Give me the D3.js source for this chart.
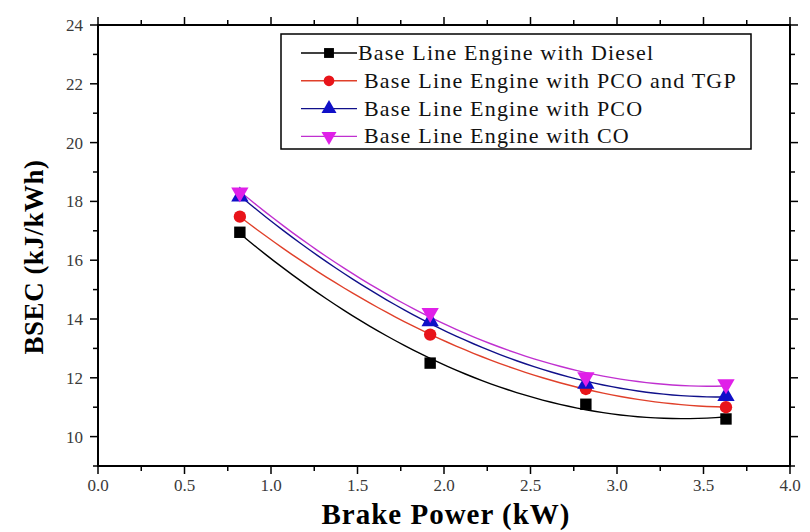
<!DOCTYPE html>
<html>
<head>
<meta charset="utf-8">
<script src="https://cdn.jsdelivr.net/npm/d3@7"></script>
<style>
  body { margin: 0; background: #fff; }
  text { font-family: "Liberation Serif", "Times New Roman", serif; }
</style>
</head>
<body>
<div class="chart_container"></div>
<script>
    // data
    var brake_power = [0.82, 1.92, 2.82, 3.63];
    var series_names = ["Base Line Engine with Diesel", "Base Line Engine with PCO and TGP",
                        "Base Line Engine with PCO", "Base Line Engine with CO"];
    var diesel = [16.95, 12.5, 11.1, 10.6];
    var pco_tgp = [17.48, 13.47, 11.62, 11.0];
    var pco = [18.17, 13.92, 11.8, 11.38];
    var co = [18.3, 14.2, 12.02, 11.78];
    var x_ticks = [0, 0.5, 1, 1.5, 2, 2.5, 3, 3.5, 4];
    var y_ticks = [10, 12, 14, 16, 18, 20, 22, 24];

    var w = 810, h = 532;
    var p_left = 98, p_right = 790, p_top = 25, p_bottom = 466;

    var svg = d3.select('.chart_container')
                .append('svg')
                .attr('width', w)
                .attr('height', h);

    var x_scale = d3.scaleLinear().domain([0, 4]).range([p_left, p_right]);
    var y_scale = d3.scaleLinear().domain([9, 24]).range([p_bottom, p_top]);

    var colors = ["#000000", "#e8141a", "#1010c8", "#e020e8"];
    var line_colors = ["#000000", "#e0402a", "#10108a", "#c030d0"];
    var shapes = [d3.symbolSquare, d3.symbolCircle, d3.symbolTriangle, d3.symbolTriangle];
    var sizes = [130, 120, 130, 130];
    var all_series = [diesel, pco_tgp, pco, co];

    //quadratic least squares fit for the smooth curves
    function fit2(xs, ys) {
        var s = [0, 0, 0, 0, 0], t = [0, 0, 0];
        xs.forEach(function(x, i) {
            for (var k = 0; k < 5; k++) s[k] += Math.pow(x, k);
            for (var k = 0; k < 3; k++) t[k] += ys[i] * Math.pow(x, k);
        });
        var m = [[s[0], s[1], s[2], t[0]], [s[1], s[2], s[3], t[1]], [s[2], s[3], s[4], t[2]]];
        for (var i = 0; i < 3; i++) {
            for (var j = i + 1; j < 3; j++) {
                var f = m[j][i] / m[i][i];
                for (var k = i; k < 4; k++) m[j][k] -= f * m[i][k];
            }
        }
        var c = [0, 0, 0];
        for (var i = 2; i >= 0; i--) {
            var v = m[i][3];
            for (var k = i + 1; k < 3; k++) v -= m[i][k] * c[k];
            c[i] = v / m[i][i];
        }
        return function(x) { return c[0] + c[1] * x + c[2] * x * x; };
    }

    //axes, ticks pointing outwards on all four sides
    var minor_x = d3.range(0, 4.01, 0.25);
    var minor_y = d3.range(9, 24.01, 1);
    function tickLen(major) { return major ? 8 : 5; }
    function isMajorX(v) { return Math.abs(v * 2 - Math.round(v * 2)) < 1e-6; }
    function isMajorY(v) { return v % 2 === 0; }

    var ax = svg.append('g').attr('class', 'axes');
    minor_x.forEach(function(v) {
        var L = tickLen(isMajorX(v));
        ax.append('line').attr('x1', x_scale(v)).attr('x2', x_scale(v))
          .attr('y1', p_bottom).attr('y2', p_bottom + L).attr('stroke', '#000').attr('stroke-width', 1.5);
        ax.append('line').attr('x1', x_scale(v)).attr('x2', x_scale(v))
          .attr('y1', p_top).attr('y2', p_top - L).attr('stroke', '#000').attr('stroke-width', 1.5);
    });
    minor_y.forEach(function(v) {
        var L = tickLen(isMajorY(v));
        ax.append('line').attr('y1', y_scale(v)).attr('y2', y_scale(v))
          .attr('x1', p_left).attr('x2', p_left - L).attr('stroke', '#000').attr('stroke-width', 1.5);
        ax.append('line').attr('y1', y_scale(v)).attr('y2', y_scale(v))
          .attr('x1', p_right).attr('x2', p_right + L).attr('stroke', '#000').attr('stroke-width', 1.5);
    });
    ax.append('rect')
      .attr('x', p_left).attr('y', p_top)
      .attr('width', p_right - p_left).attr('height', p_bottom - p_top)
      .attr('fill', 'none').attr('stroke', '#000').attr('stroke-width', 2);

    //tick labels
    svg.selectAll('.x_label')
       .data(x_ticks).enter().append('text')
       .attr('class', 'x_label')
       .attr('x', d => x_scale(d))
       .attr('y', p_bottom + 25)
       .attr('text-anchor', 'middle')
       .style('font-size', '17px')
       .style('fill', '#3a3a3a')
       .text(d => d.toFixed(1));
    svg.selectAll('.y_label')
       .data(y_ticks).enter().append('text')
       .attr('class', 'y_label')
       .attr('x', p_left - 15)
       .attr('y', d => y_scale(d) + 6)
       .attr('text-anchor', 'end')
       .style('font-size', '17px')
       .style('fill', '#3a3a3a')
       .text(d => d);

    //axis titles
    svg.append('text')
       .attr('x', 446)
       .attr('y', 524)
       .attr('text-anchor', 'middle')
       .style('font-size', '29px')
       .style('font-weight', 'bold')
       .style('letter-spacing', '1px')
       .text('Brake Power (kW)');
    svg.append('text')
       .attr('transform', 'translate(43,257) rotate(-90)')
       .attr('text-anchor', 'middle')
       .style('font-size', '27px')
       .style('font-weight', 'bold')
       .style('letter-spacing', '0.5px')
       .text('BSEC (kJ/kWh)');

    //curves and markers
    var line = d3.line().x(d => x_scale(d[0])).y(d => y_scale(d[1]));
    all_series.forEach(function(vals, i) {
        var f = fit2(brake_power, vals);
        var xs = d3.range(brake_power[0], brake_power[3] + 0.001, 0.05);
        svg.append('path')
           .attr('d', line(xs.map(x => [x, f(x)])))
           .attr('fill', 'none')
           .attr('stroke', line_colors[i])
           .attr('stroke-width', 1.4);
    });
    all_series.forEach(function(vals, i) {
        var sym = d3.symbol().type(shapes[i]).size(sizes[i]);
        svg.selectAll('.pt' + i)
           .data(vals).enter().append('path')
           .attr('class', 'pt' + i)
           .attr('transform', function(d, j) {
               var rot = i === 3 ? ' rotate(180)' : '';
               return 'translate(' + x_scale(brake_power[j]) + ',' + y_scale(d) + ')' + rot;
           })
           .attr('d', sym())
           .attr('fill', colors[i]);
    });

    //legend
    var lg = svg.append('g').attr('class', 'legend');
    lg.append('rect')
      .attr('x', 281).attr('y', 34)
      .attr('width', 470).attr('height', 115)
      .attr('fill', '#fff').attr('stroke', '#000').attr('stroke-width', 1.5);
    series_names.forEach(function(name, i) {
        var yy = 53 + i * 27.8;
        lg.append('line')
          .attr('x1', 301).attr('x2', 357)
          .attr('y1', yy).attr('y2', yy)
          .attr('stroke', line_colors[i]).attr('stroke-width', 1.4);
        lg.append('path')
          .attr('transform', 'translate(329,' + yy + ')' + (i === 3 ? ' rotate(180)' : ''))
          .attr('d', d3.symbol().type(shapes[i]).size(sizes[i] * 0.75)())
          .attr('fill', colors[i]);
        lg.append('text')
          .attr('x', i === 0 ? 358 : 364)
          .attr('y', yy + 7)
          .style('font-size', '22px')
          .style('letter-spacing', '1.2px')
          .style('fill', '#111')
          .text(name);
    });
</script>
</body>
</html>
